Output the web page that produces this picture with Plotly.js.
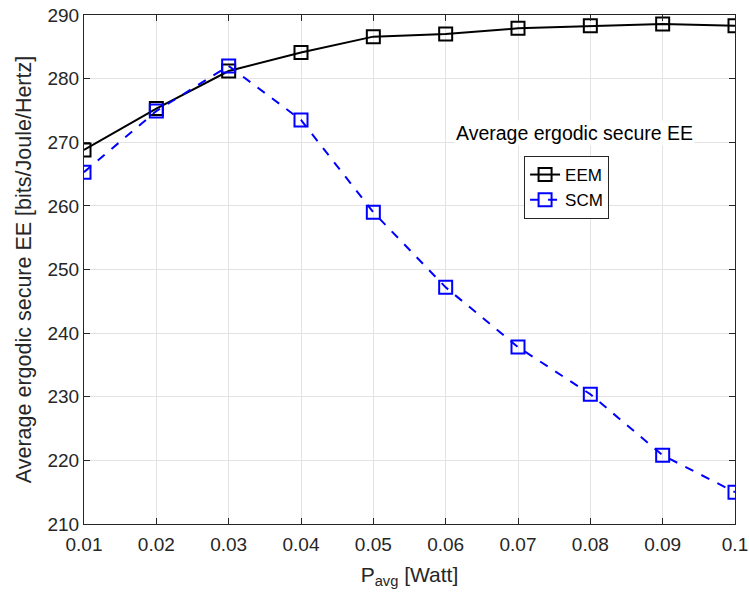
<!DOCTYPE html>
<html>
<head>
<meta charset="utf-8">
<script src="https://cdn.plot.ly/plotly-3.0.1.min.js"></script>
<style>html,body{margin:0;padding:0;background:#fff}#chart{width:749px;height:594px}</style>
</head>
<body>
<div id="chart"></div>
<script>
const pAvg = [0.01, 0.02, 0.03, 0.04, 0.05, 0.06, 0.07, 0.08, 0.09, 0.1];
const eem = [268.8, 275.3, 281.2, 284.1, 286.6, 287.0, 287.9, 288.3, 288.6, 288.3];
const scm = [265.3, 274.9, 282.0, 273.5, 259.0, 247.2, 237.8, 230.4, 220.8, 215.0];
const xTickVals = [0.01, 0.02, 0.03, 0.04, 0.05, 0.06, 0.07, 0.08, 0.09, 0.1];
const xTickText = ["0.01", "0.02", "0.03", "0.04", "0.05", "0.06", "0.07", "0.08", "0.09", "0.1"];
const yTickVals = [210, 220, 230, 240, 250, 260, 270, 280, 290];

const font = "Liberation Sans, Arial, Helvetica, sans-serif";
const traces = [
  {x: pAvg, y: eem, name: "EEM", mode: "lines+markers", type: "scatter",
   line: {color: "#000000", width: 2},
   marker: {symbol: "square-open", size: 13, color: "#000000", line: {width: 2, color: "#000000"}}},
  {x: pAvg, y: scm, name: "SCM", mode: "lines+markers", type: "scatter",
   line: {color: "#0000ff", width: 2, dash: "dash"},
   marker: {symbol: "square-open", size: 13, color: "#0000ff", line: {width: 2, color: "#0000ff"}}}
];
const axisCommon = {
  showline: true, mirror: "ticks", linecolor: "#262626", linewidth: 1,
  ticks: "inside", ticklen: 6, tickcolor: "#262626",
  showgrid: true, gridcolor: "#e3e3e3", gridwidth: 1, zeroline: false,
  tickfont: {family: font, size: 19, color: "#262626"}
};
const layout = {
  width: 749, height: 594,
  margin: {l: 84, r: 14, t: 15, b: 70},
  paper_bgcolor: "#fff", plot_bgcolor: "#fff",
  showlegend: true,
  legend: {x: 0.676, y: 0.723, xanchor: "left", yanchor: "top",
           bgcolor: "#fff", bordercolor: "#262626", borderwidth: 1,
           font: {family: font, size: 17, color: "#000"}, tracegroupgap: 0},
  xaxis: Object.assign({}, axisCommon, {
    range: [0.01, 0.1], tickvals: xTickVals, ticktext: xTickText, ticklabelstandoff: 3,
    title: {text: "P<sub>avg</sub> [Watt]", font: {family: font, size: 21, color: "#262626"}, standoff: 13}
  }),
  yaxis: Object.assign({}, axisCommon, {
    range: [210, 290], tickvals: yTickVals,
    title: {text: "Average ergodic secure EE [bits/Joule/Hertz]", font: {family: font, size: 21.5, color: "#262626"}, standoff: 9}
  }),
  annotations: [
    {text: "Average ergodic secure EE", xref: "paper", yref: "paper",
     x: 0.754, y: 0.768, xanchor: "center", yanchor: "middle", showarrow: false,
     bgcolor: "#fff", font: {family: font, size: 19.5, color: "#000"}}
  ]
};
Plotly.newPlot("chart", traces, layout, {displayModeBar: false, staticPlot: true});
</script>
</body>
</html>
